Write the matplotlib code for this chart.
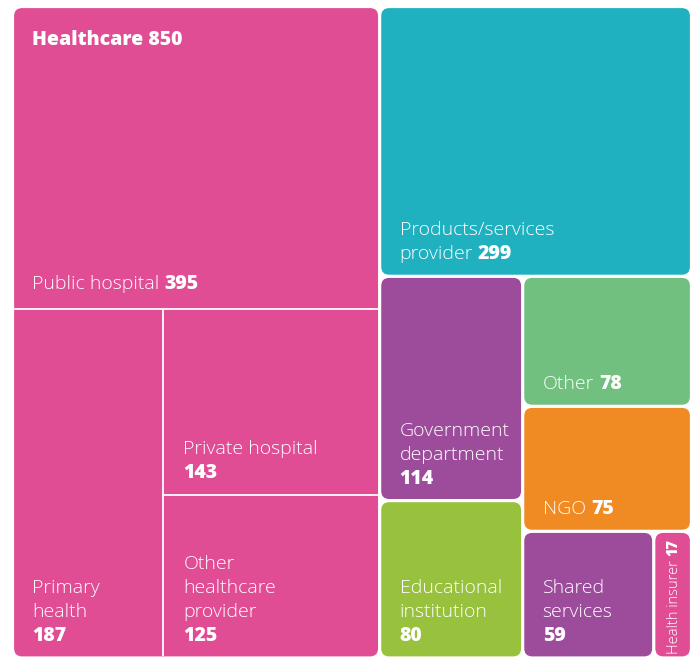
import matplotlib
matplotlib.use("Agg")
import matplotlib.pyplot as plt
from matplotlib.patches import FancyBboxPatch

# ---------------- data ----------------
top_labels = ["Healthcare", "Products/services\nprovider", "Government\ndepartment", "Other", "NGO",
              "Educational\ninstitution", "Shared\nservices", "Health insurer"]
top_values = [850, 299, 114, 78, 75, 80, 59, 17]
top_inline = [True, True, False, True, True, False, False, True]
top_colors = ["#E14D94", "#20B1C1", "#9D4C9B", "#71C07F", "#F08B23", "#98C13D", "#9D4C9B", "#E14D94"]

health_labels = ["Public hospital", "Primary\nhealth", "Private hospital", "Other\nhealthcare\nprovider"]
health_values = [395, 187, 143, 125]
health_inline = [True, False, False, False]

# ---------------- layout helpers ----------------
W, H = 694, 658
fig = plt.figure(figsize=(W / 100, H / 100), dpi=100)
ax = fig.add_axes([0, 0, 1, 1])
ax.set_xlim(0, W)
ax.set_ylim(H, 0)
ax.axis("off")

FONT = ["Open Sans", "DejaVu Sans"]
LIGHT = 300
BOLD = 800


def split(rect, vals, horizontal):
    """Split rect (x, y, w, h) proportionally to vals; horizontal=True splits along x."""
    x, y, w, h = rect
    tot = float(sum(vals))
    out, acc = [], 0.0
    for v in vals:
        f = v / tot
        if horizontal:
            out.append((x + w * acc, y, w * f, h))
        else:
            out.append((x, y + h * acc, w, h * f))
        acc += f
    return out


area = (12.5, 6.5, 679.0, 651.5)
left, right = split(area, [top_values[0], sum(top_values[1:])], True)
r_prod, r_rest = split(right, [top_values[1], sum(top_values[2:])], False)
sub_l, sub_r = split(r_rest, [top_values[2] + top_values[5],
                              top_values[3] + top_values[4] + top_values[6] + top_values[7]], True)
r_gov, r_edu = split(sub_l, [top_values[2], top_values[5]], False)
r_oth, r_ngo, r_small = split(sub_r, [top_values[3], top_values[4], top_values[6] + top_values[7]], False)
r_shared, r_ins = split(r_small, [top_values[6], top_values[7]], True)
top_rects = [left, r_prod, r_gov, r_oth, r_ngo, r_edu, r_shared, r_ins]

# healthcare children
h_top, h_bottom = split(left, [health_values[0], sum(health_values[1:])], False)
h_prim, h_rcol = split(h_bottom, [health_values[1], health_values[2] + health_values[3]], True)
h_priv, h_othh = split(h_rcol, [health_values[2], health_values[3]], False)
health_rects = [h_top, h_prim, h_priv, h_othh]

GAP = 1.6
RAD = 8


def inset(r):
    x, y, w, h = r
    return (x + GAP, y + GAP, w - 2 * GAP, h - 2 * GAP)


for r, c in zip(top_rects, top_colors):
    x, y, w, h = inset(r)
    ax.add_patch(FancyBboxPatch((x, y), w, h, boxstyle=f"round,pad=0,rounding_size={RAD}",
                                facecolor=c, edgecolor="none", zorder=1))

# white separators inside healthcare
lx, ly, lw, lh = inset(left)
lw_sep = 1.3
yb = h_top[1] + h_top[3]
ax.plot([lx, lx + lw], [yb, yb], color="white", lw=lw_sep, zorder=2, solid_capstyle="butt")
xb = h_prim[0] + h_prim[2]
ax.plot([xb, xb], [yb, ly + lh], color="white", lw=lw_sep, zorder=2, solid_capstyle="butt")
yb2 = h_priv[1] + h_priv[3]
ax.plot([xb, lx + lw], [yb2, yb2], color="white", lw=lw_sep, zorder=2, solid_capstyle="butt")

FS = 14
LINE = 24
PADX = 20
PADB = 17
NUMGAP = 5  # px between label and inline number

fig.canvas.draw()
renderer = fig.canvas.get_renderer()


def right_edge_data(t):
    bb = t.get_window_extent(renderer)
    return ax.transData.inverted().transform((bb.x1, bb.y0))[0]


def label(rect, text, value, inline, padb=PADB):
    x, y, w, h = rect
    x0 = x + PADX
    base = y + h - padb
    lines = text.split("\n")
    n = len(lines)
    if inline:
        for i, ln in enumerate(lines):
            yy = base - (n - 1 - i) * LINE
            t = ax.text(x0, yy, ln, color="white", fontsize=FS, family=FONT,
                        fontweight=LIGHT, va="baseline", ha="left", zorder=3)
        xr = right_edge_data(t)
        ax.text(xr + NUMGAP, base, str(value), color="white", fontsize=FS, family=FONT,
                fontweight=BOLD, va="baseline", ha="left", zorder=3)
    else:
        for i, ln in enumerate(lines):
            yy = base - (n - i) * LINE
            ax.text(x0, yy, ln, color="white", fontsize=FS, family=FONT,
                    fontweight=LIGHT, va="baseline", ha="left", zorder=3)
        ax.text(x0, base, str(value), color="white", fontsize=FS, family=FONT,
                fontweight=BOLD, va="baseline", ha="left", zorder=3)


# Healthcare title
ax.text(left[0] + PADX, left[1] + 38.5, f"{top_labels[0]} {top_values[0]}", color="white",
        fontsize=FS, family=FONT, fontweight=BOLD, va="baseline", ha="left", zorder=3)

for r, t, v, inl in zip(health_rects, health_labels, health_values, health_inline):
    label(r, t, v, inl, padb=PADB + (3 if inl else 0))

for r, t, v, inl in zip(top_rects[1:7], top_labels[1:7], top_values[1:7], top_inline[1:7]):
    label(r, t, v, inl)

# Health insurer: rotated label (reads bottom to top)
x, y, w, h = r_ins
xc = x + w / 2 + 5
ti = ax.text(xc, y + h - 4, top_labels[7], color="white", fontsize=10.5, family=FONT,
             fontweight=LIGHT, rotation=90, ha="left", va="baseline",
             rotation_mode="anchor", zorder=3)
bb = ti.get_window_extent(renderer)
ytop = ax.transData.inverted().transform((bb.x0, bb.y1))[1]
ax.text(xc, ytop - 4, str(top_values[7]), color="white", fontsize=10.5, family=FONT,
        fontweight=BOLD, rotation=90, ha="left", va="baseline", rotation_mode="anchor", zorder=3)

fig.savefig("out.png", dpi=100, facecolor="white")
